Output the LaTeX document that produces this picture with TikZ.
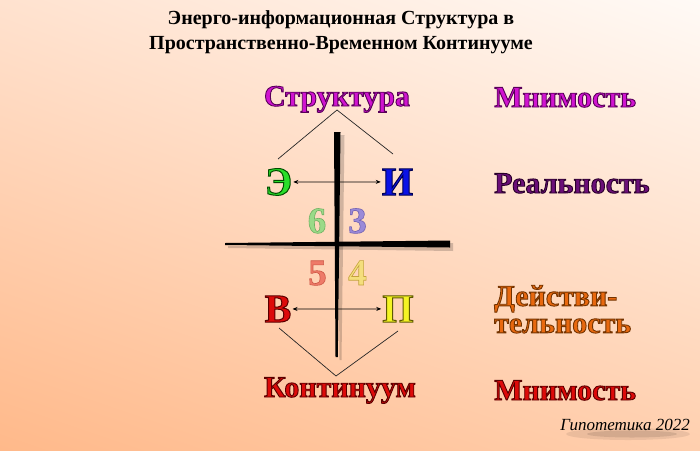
\documentclass[tikz,border=0pt]{standalone}
\usepackage{fontspec}
\setmainfont{Liberation Serif}
\usetikzlibrary{arrows.meta,shadings}
\definecolor{bgUL}{HTML}{FFE2CF}
\definecolor{bgUR}{HTML}{FFFAF6}
\definecolor{bgLL}{HTML}{FFB98A}
\definecolor{bgLR}{HTML}{FFCFAE}
\definecolor{magF}{HTML}{D014D0}
\definecolor{purF}{HTML}{6B0F78}
\definecolor{orgF}{HTML}{E8680E}
\definecolor{redF}{HTML}{DD0A0A}
\definecolor{grnF}{HTML}{2ADD2A}
\definecolor{bluF}{HTML}{0A12E6}
\definecolor{yelF}{HTML}{F4F424}
\definecolor{sixF}{HTML}{9ADA88}
\definecolor{thrF}{HTML}{9A8AD8}
\definecolor{fivF}{HTML}{EE7A68}
\definecolor{fouF}{HTML}{F4DE7C}
% outline colours as PDF rgb triples
\def\magO{0.35 0 0.35}
\def\purO{0.16 0 0.16}
\def\orgO{0.45 0.2 0}
\def\redO{0.35 0 0}
\def\grnO{0 0.3 0}
\def\bluO{0 0 0.32}
\def\yelO{0.37 0.35 0}
\def\sixO{0.44 0.69 0.38}
\def\thrO{0.45 0.38 0.7}
\def\fivO{0.8 0.34 0.27}
\def\fouO{0.77 0.64 0.24}
% filled + stroked glyphs (text render mode 2)
\newcommand\outl[3]{\special{pdf:code 2 Tr #2 w #1 RG}#3\special{pdf:code 0 Tr}}
\tikzset{
  word/.style={font=\bfseries\fontsize{30}{30}\selectfont, inner sep=0pt},
  letter/.style={font=\bfseries\fontsize{40}{40}\selectfont, inner sep=1pt},
  digit/.style={font=\bfseries\fontsize{37}{37}\selectfont, inner sep=0pt},
  guide/.style={draw=black!85, line width=0.7pt},
  twoway/.style={draw=black, line width=0.7pt, {Stealth[length=5pt,width=4pt]}-{Stealth[length=5pt,width=4pt]}},
  axisbar/.style={fill=black},
  axisshadow/.style={fill=black, opacity=0.18}
}
\begin{document}
\begin{tikzpicture}[x=1pt,y=-1pt]
\useasboundingbox (0,0) rectangle (700,450);
\shade[upper left=bgUL, upper right=bgUR, lower left=bgLL, lower right=bgLR] (0,0) rectangle (700,450);

% title
\node[font=\bfseries\fontsize{20}{25}\selectfont, align=center, inner sep=0pt] (title) at (341,32) {Энерго-информационная Структура в\\Пространственно-Временном Континууме};

% axes (tapered bars) with soft shadows
\fill[axisshadow] (337.5,135) -- (344.5,135) -- (341.5,360) -- (339.5,360) -- cycle;
\fill[axisshadow] (228,246) -- (453,243) -- (453,251) -- (228,248) -- cycle;
\fill[axisbar] (334,132) -- (340.5,132) -- (337.8,357) -- (335.5,357) -- cycle;
\fill[axisbar] (225,243) -- (450,240.5) -- (450,247.5) -- (225,245) -- cycle;

% outlined words
\node[word,text=magF,anchor=base] (struct) at (337,106) {\outl{\magO}{0.9}{Структура}};
\node[word,text=redF,anchor=base] (kont) at (340,397) {\outl{\redO}{0.9}{Континуум}};
\node[word,text=magF,anchor=base west] (mn1) at (494,107) {\outl{\magO}{0.9}{Мнимость}};
\node[word,text=purF,anchor=base west] (real) at (494,193) {\outl{\purO}{0.9}{Реальность}};
\node[word,text=orgF,anchor=north west,align=left,font=\bfseries\fontsize{30}{27}\selectfont] (dei) at (494,285)
  {\outl{\orgO}{0.9}{Действи-}\\\outl{\orgO}{0.9}{тельность}};
\node[word,text=redF,anchor=base west] (mn2) at (494,400) {\outl{\redO}{0.9}{Мнимость}};

\node[letter,text=grnF,anchor=base] (E) at (278.5,195) {\outl{\grnO}{1}{Э}};
\node[letter,text=bluF,anchor=base] (I) at (397.5,195) {\outl{\bluO}{1}{И}};
\node[letter,text=redF,anchor=base] (V) at (278,322) {\outl{\redO}{1}{В}};
\node[letter,text=yelF,anchor=base] (P) at (398,322) {\outl{\yelO}{1}{П}};

\node[digit,text=sixF,anchor=base] (six) at (317,233) {\outl{\sixO}{0.6}{6}};
\node[digit,text=thrF,anchor=base] (three) at (357.5,233) {\outl{\thrO}{0.6}{3}};
\node[digit,text=fivF,anchor=base] (five) at (317.5,285) {\outl{\fivO}{0.6}{5}};
\node[digit,text=fouF,anchor=base] (four) at (357.5,285) {\outl{\fouO}{0.6}{4}};

% connectors
\coordinate (apexT) at (337,110);
\coordinate (legTL) at (278,159);
\coordinate (legTR) at (393,154);
\coordinate (apexB) at (336,376);
\coordinate (legBL) at (279,328);
\coordinate (legBR) at (398,331);
\draw[guide] (legTL) -- (apexT) -- (legTR);
\draw[guide] (legBL) -- (apexB) -- (legBR);
\draw[twoway] (E.east) -- (I.west);
\draw[twoway] (V.east) -- (P.west);

% signature
\fill[black, opacity=0.08] (628,434) ellipse [x radius=62, y radius=6];
\fill[black, opacity=0.10] (632,434) ellipse [x radius=45, y radius=3.5];
\node[font=\itshape\fontsize{17}{17}\selectfont, anchor=base, inner sep=0pt] (sig) at (625,430) {Гипотетика 2022};
\end{tikzpicture}
\end{document}
